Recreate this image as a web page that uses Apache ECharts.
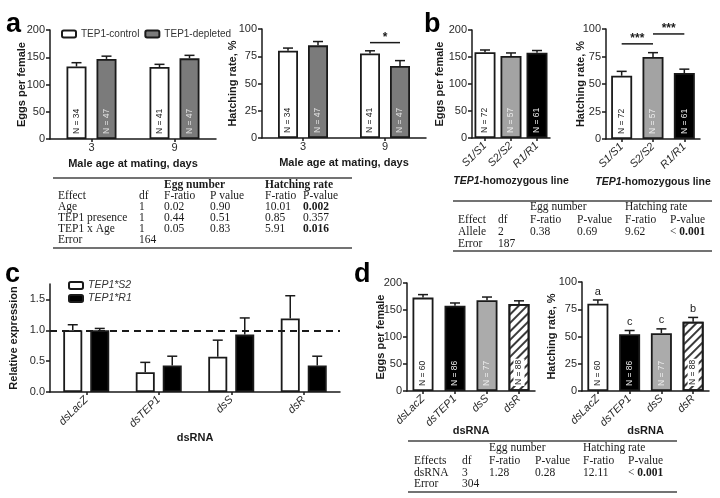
<!DOCTYPE html>
<html>
<head>
<meta charset="utf-8">
<script src="https://cdn.jsdelivr.net/npm/echarts@6/dist/echarts.min.js"></script>
<style>
html, body { margin: 0; background: #fff; }
#chart { width: 720px; height: 498px; }
</style>
</head>
<body>
<div id="chart"></div>
<script>
// ---- panel a : male age x TEP1 ----
var ageCats = ['3', '9'];
var aEggCtrl = [133, 132], aEggCtrlErr = [7, 5];
var aEggDepl = [147, 148], aEggDeplErr = [5, 5.5];
var aHatchCtrl = [80, 77.5], aHatchCtrlErr = [2.5, 2.5];
var aHatchDepl = [85, 66], aHatchDeplErr = [3.5, 5];
var aNCtrl = [34, 41], aNDepl = [47, 47];

// ---- panel b : homozygous lines ----
var lineCats = ['S1/S1', 'S2/S2', 'R1/R1'];
var bEgg = [159, 152, 158], bEggErr = [4, 5.5, 4];
var bHatch = [57.5, 74.5, 60], bHatchErr = [4, 4, 3.5];
var bN = [72, 57, 61];

// ---- panel c : relative expression ----
var dsCats = ['dsLacZ', 'dsTEP1', 'dsS', 'dsR'];
var cS2 = [1.0, 0.32, 0.57, 1.19], cS2Err = [0.09, 0.16, 0.27, 0.37];
var cR1 = [1.0, 0.43, 0.93, 0.43], cR1Err = [0.03, 0.15, 0.27, 0.15];

// ---- panel d : dsRNA ----
var dEgg = [173, 158, 168, 161], dEggErr = [5.5, 5, 6, 6];
var dHatch = [80, 52, 53, 63.5], dHatchErr = [3.5, 3.5, 4, 4];
var dN = [60, 86, 77, 88];
var dLetters = ['a', 'c', 'c', 'b'];

// significance brackets: [cat1, shift1, cat2, shift2]
var sigAPairs = [[1, -1, 1, 1]], sigAY = [87.5], sigAText = ['*'];
var sigBPairs = [[0, 0, 1, 0], [1, 0, 2, 0]], sigBY = [86.5, 95.5], sigBText = ['***', '***'];

// ---- tables ----
var tabAHead = ['Effect', 'df', 'F-ratio', 'P value', 'F-ratio', 'P-value'];
var tabARows = [
    ['Age', '1', '0.02', '0.90', '10.01', '0.002'],
    ['TEP1 presence', '1', '0.44', '0.51', '0.85', '0.357'],
    ['TEP1 x Age', '1', '0.05', '0.83', '5.91', '0.016'],
    ['Error', '164', '', '', '', '']
];
var tabBHead = ['Effect', 'df', 'F-ratio', 'P-value', 'F-ratio', 'P-value'];
var tabBRows = [
    ['Allele', '2', '0.38', '0.69', '9.62', '< 0.001'],
    ['Error', '187', '', '', '', '']
];
var tabDHead = ['Effects', 'df', 'F-ratio', 'P-value', 'F-ratio', 'P-value'];
var tabDRows = [
    ['dsRNA', '3', '1.28', '0.28', '12.11', '< 0.001'],
    ['Error', '304', '', '', '', '']
];
var boldCells = ['0.002', '0.016'];

var SANS = 'Arial, "Liberation Sans", sans-serif';
var SERIF = '"Liberation Serif", "Times New Roman", serif';
var INK = '#1a1a1a';

var chart = echarts.init(document.getElementById('chart'));

function yAx(gi, max, interval, name, nameGap, fmt, ticks) {
    var ax = {
        type: 'value', gridIndex: gi, min: 0, max: max, interval: interval,
        name: name, nameLocation: 'middle', nameGap: nameGap, nameMoveOverlap: false,
        nameTextStyle: { fontFamily: SANS, fontWeight: 'bold', fontSize: 11, color: INK },
        axisLine: { show: true, lineStyle: { color: INK, width: 1.5 } },
        axisTick: { show: true, length: 4, lineStyle: { color: INK, width: 1.5 } },
        axisLabel: { fontFamily: SANS, fontSize: 11, color: '#2a2a2a', margin: 5 },
        splitLine: { show: false }
    };
    if (fmt) ax.axisLabel.formatter = fmt;
    if (ticks) {
        ax.axisLabel.customValues = ticks;
        ax.axisTick.customValues = ticks;
    }
    return ax;
}

function xAx(gi, cats, name, nameGap, rotated, nameSize) {
    var fs = nameSize || 11;
    return {
        type: 'category', gridIndex: gi, data: cats,
        name: name, nameLocation: 'middle', nameGap: nameGap, nameMoveOverlap: false,
        nameTextStyle: {
            fontFamily: SANS, fontWeight: 'bold', fontSize: fs, color: INK,
            rich: { i: { fontFamily: SANS, fontWeight: 'bold', fontStyle: 'italic', fontSize: fs, color: INK } }
        },
        axisLine: { show: true, lineStyle: { color: INK, width: 1.5 } },
        axisTick: { show: true, alignWithLabel: true, length: 3, lineStyle: { color: INK, width: 1.5 } },
        axisLabel: {
            fontFamily: SANS, fontSize: 11, color: '#2a2a2a', margin: rotated ? 6 : 3,
            rotate: rotated ? 45 : 0, fontStyle: rotated ? 'italic' : 'normal', interval: 0
        },
        splitLine: { show: false }
    };
}

function bars(name, gi, values, colors, nums, labelColors, barWidth, barGap, extra) {
    var s = {
        type: 'bar', name: name, xAxisIndex: gi, yAxisIndex: gi,
        barWidth: barWidth, barGap: barGap,
        itemStyle: { color: colors[0], borderColor: INK, borderWidth: 1.8 },
        data: values.map(function (v, i) {
            return { value: v, itemStyle: { color: colors[i % colors.length] }, label: { color: labelColors[i % labelColors.length] } };
        }),
        label: {
            show: !!nums, position: 'insideBottom', rotate: 90, align: 'left', verticalAlign: 'middle',
            distance: 5, fontFamily: SANS, fontSize: 8.5,
            formatter: function (p) { return 'N = ' + nums[p.dataIndex]; }
        },
        emphasis: { disabled: true }
    };
    if (extra) extra(s);
    return s;
}

function errs(gi, means, errv, shift, tags) {
    return {
        type: 'custom', xAxisIndex: gi, yAxisIndex: gi, z: 3, silent: true,
        encode: { x: 0, y: 1 },
        data: means.map(function (m, i) { return [i, m, errv[i]]; }),
        renderItem: function (params, api) {
            var p0 = api.coord([api.value(0), api.value(1)]);
            var p1 = api.coord([api.value(0), api.value(1) + api.value(2)]);
            var x = p0[0] + shift;
            var st = { stroke: INK, lineWidth: 1.5 };
            var children = [
                { type: 'line', shape: { x1: x, y1: p0[1], x2: x, y2: p1[1] }, style: st },
                { type: 'line', shape: { x1: x - 5, y1: p1[1], x2: x + 5, y2: p1[1] }, style: st }
            ];
            if (tags) {
                children.push({ type: 'text', style: {
                    text: tags[params.dataIndex], x: x, y: p1[1] - 3,
                    align: 'center', verticalAlign: 'bottom', fill: INK, font: '11px ' + SANS
                } });
            }
            return { type: 'group', children: children };
        }
    };
}

function sig(gi, pairs, ys, texts, unit) {
    return {
        type: 'custom', xAxisIndex: gi, yAxisIndex: gi, z: 3, silent: true,
        encode: { x: 0, y: 1 },
        data: pairs.map(function (p, i) { return [p[0], ys[i], p[2], p[1], p[3]]; }),
        renderItem: function (params, api) {
            var y = api.value(1);
            var a = api.coord([api.value(0), y]);
            var b = api.coord([api.value(2), y]);
            var x1 = a[0] + api.value(3) * unit, x2 = b[0] + api.value(4) * unit;
            return { type: 'group', children: [
                { type: 'line', shape: { x1: x1, y1: a[1], x2: x2, y2: a[1] }, style: { stroke: INK, lineWidth: 1.5 } },
                { type: 'text', style: { text: texts[params.dataIndex], x: (x1 + x2) / 2, y: a[1] + 1,
                    align: 'center', verticalAlign: 'bottom', fill: INK, font: 'bold 12px ' + SANS } }
            ] };
        }
    };
}

function table(x0, x1, lineYs, colX, rowYs, top, head, rows, boldTop) {
    var els = [];
    lineYs.forEach(function (y) {
        els.push({ type: 'line', shape: { x1: x0, y1: y, x2: x1, y2: y }, style: { stroke: '#444', lineWidth: 1.3 } });
    });
    function txt(s, x, y, bold) {
        var el = { type: 'text', style: { text: s, x: x, y: y, verticalAlign: 'middle', fill: INK,
            font: (bold ? 'bold ' : '') + '11.5px ' + SERIF } };
        if (s.indexOf('< ') === 0) {
            el.style.text = '{n|< }{b|' + s.slice(2) + '}';
            el.style.rich = {
                n: { fontFamily: SERIF, fontSize: 11.5, fill: INK },
                b: { fontFamily: SERIF, fontSize: 11.5, fontWeight: 'bold', fill: INK }
            };
        }
        els.push(el);
    }
    txt(top[0], colX[2], rowYs[0], boldTop);
    txt(top[1], colX[4], rowYs[0], boldTop);
    head.forEach(function (h, j) { txt(h, colX[j], rowYs[1]); });
    rows.forEach(function (r, i) {
        r.forEach(function (c, j) { if (c) txt(c, colX[j], rowYs[i + 2], boldCells.indexOf(c) >= 0); });
    });
    return els;
}

function letter(ch, x, y) {
    return { type: 'text', style: { text: ch, x: x, y: y, verticalAlign: 'bottom', fill: '#000', font: 'bold 27px ' + SANS } };
}

var white = '#ffffff', black = '#000000';
var hatch = { color: '#ffffff', decal: { symbol: 'rect', symbolSize: 1, color: '#3a3a3a',
    dashArrayX: [1, 0], dashArrayY: [1.6, 3.2], rotation: -Math.PI / 4 } };

var option = {
    animation: false,
    backgroundColor: '#fff',
    grid: [
        { left: 50, top: 30, width: 166, height: 109, outerBoundsMode: 'none' },
        { left: 262, top: 29, width: 164, height: 109, outerBoundsMode: 'none' },
        { left: 472, top: 30, width: 78, height: 108, outerBoundsMode: 'none' },
        { left: 606, top: 29, width: 94, height: 110, outerBoundsMode: 'none' },
        { left: 50, top: 284, width: 290, height: 108, outerBoundsMode: 'none' },
        { left: 407, top: 283, width: 128, height: 108, outerBoundsMode: 'none' },
        { left: 582, top: 282, width: 127, height: 109, outerBoundsMode: 'none' }
    ],
    legend: [
        { data: ['TEP1-control', 'TEP1-depleted'], left: 61, top: 29, padding: 0, itemWidth: 14, itemHeight: 7, itemGap: 5,
          selectedMode: false, textStyle: { fontFamily: SANS, fontSize: 10, color: '#333' } },
        { data: ['TEP1*S2', 'TEP1*R1'], orient: 'vertical', left: 68, top: 280, padding: 0, itemWidth: 14, itemHeight: 7, itemGap: 2,
          selectedMode: false, textStyle: { fontFamily: SANS, fontSize: 10.5, fontStyle: 'italic', color: '#333' } }
    ],
    xAxis: [
        xAx(0, ageCats, 'Male age at mating, days', 19, false),
        xAx(1, ageCats, 'Male age at mating, days', 19, false),
        xAx(2, lineCats, '{i|TEP1}-homozygous line', 38, true, 10.5),
        xAx(3, lineCats, '{i|TEP1}-homozygous line', 38, true, 10.5),
        xAx(4, dsCats, 'dsRNA', 40, true),
        xAx(5, dsCats, 'dsRNA', 34, true),
        xAx(6, dsCats, 'dsRNA', 34, true)
    ],
    yAxis: [
        yAx(0, 200, 50, 'Eggs per female', 23),
        yAx(1, 100, 25, 'Hatching rate, %', 24),
        yAx(2, 200, 50, 'Eggs per female', 27),
        yAx(3, 100, 25, 'Hatching rate, %', 20),
        yAx(4, 1.75, 0.25, 'Relative expression', 31, function (v) { return v.toFixed(1); }, [0, 0.5, 1, 1.5]),
        yAx(5, 200, 50, 'Eggs per female', 21),
        yAx(6, 100, 25, 'Hatching rate, %', 25)
    ],
    series: [
        // a
        bars('TEP1-control', 0, aEggCtrl, [white], aNCtrl, ['#222'], 20, '50%'),
        bars('TEP1-depleted', 0, aEggDepl, ['#7b7b7b'], aNDepl, ['#e0e0e0'], 20, '50%'),
        errs(0, aEggCtrl, aEggCtrlErr, -15), errs(0, aEggDepl, aEggDeplErr, 15),
        bars('TEP1-control', 1, aHatchCtrl, [white], aNCtrl, ['#222'], 20, '50%'),
        bars('TEP1-depleted', 1, aHatchDepl, ['#7b7b7b'], aNDepl, ['#e0e0e0'], 20, '50%'),
        errs(1, aHatchCtrl, aHatchCtrlErr, -15), errs(1, aHatchDepl, aHatchDeplErr, 15),
        sig(1, sigAPairs, sigAY, sigAText, 15),
        // b
        bars('bEgg', 2, bEgg, [white, '#a3a3a3', black], bN, ['#222', '#eee', '#eee'], 21, '30%'),
        errs(2, bEgg, bEggErr, 0),
        bars('bHatch', 3, bHatch, [white, '#a3a3a3', black], bN, ['#222', '#eee', '#eee'], 21, '30%'),
        errs(3, bHatch, bHatchErr, 0),
        sig(3, sigBPairs, sigBY, sigBText, 0),
        // c
        bars('TEP1*S2', 4, cS2, [white], null, ['#222'], 19, '42%', function (s) {
            s.markLine = { silent: true, symbol: 'none', label: { show: false },
                lineStyle: { color: INK, type: [7, 5], width: 2 }, data: [{ yAxis: 1 }] };
        }),
        bars('TEP1*R1', 4, cR1, [black], null, ['#eee'], 19, '42%'),
        errs(4, cS2, cS2Err, -13.5), errs(4, cR1, cR1Err, 13.5),
        // d
        bars('dEgg', 5, dEgg, [white, black, '#ababab', white], dN, ['#222', '#eee', '#eee', '#222'], 21, '30%', function (s) {
            s.data[3].itemStyle = hatch;
            s.data[3].label = { color: '#222', backgroundColor: '#fff', padding: [1, 1] };
        }),
        errs(5, dEgg, dEggErr, 0),
        bars('dHatch', 6, dHatch, [white, black, '#ababab', white], dN, ['#222', '#eee', '#eee', '#222'], 21, '30%', function (s) {
            s.data[3].itemStyle = hatch;
            s.data[3].label = { color: '#222', backgroundColor: '#fff', padding: [1, 1] };
        }),
        errs(6, dHatch, dHatchErr, 0, dLetters)
    ],
    graphic: [].concat(
        [letter('a', 6, 38), letter('b', 424, 38), letter('c', 5, 288), letter('d', 354, 288)],
        table(53, 352, [178, 248], [58, 139, 164, 210, 265, 303], [185, 196, 207, 218, 229, 240],
            ['Egg number', 'Hatching rate'], tabAHead, tabARows, true),
        table(453, 712, [201, 251], [458, 498, 530, 577, 625, 670], [207, 220, 232, 244],
            ['Egg number', 'Hatching rate'], tabBHead, tabBRows, false),
        table(408, 677, [441, 492], [414, 462, 489, 535, 583, 628], [448, 461, 473, 484],
            ['Egg number', 'Hatching rate'], tabDHead, tabDRows, false)
    )
};

chart.setOption(option);
</script>
</body>
</html>
